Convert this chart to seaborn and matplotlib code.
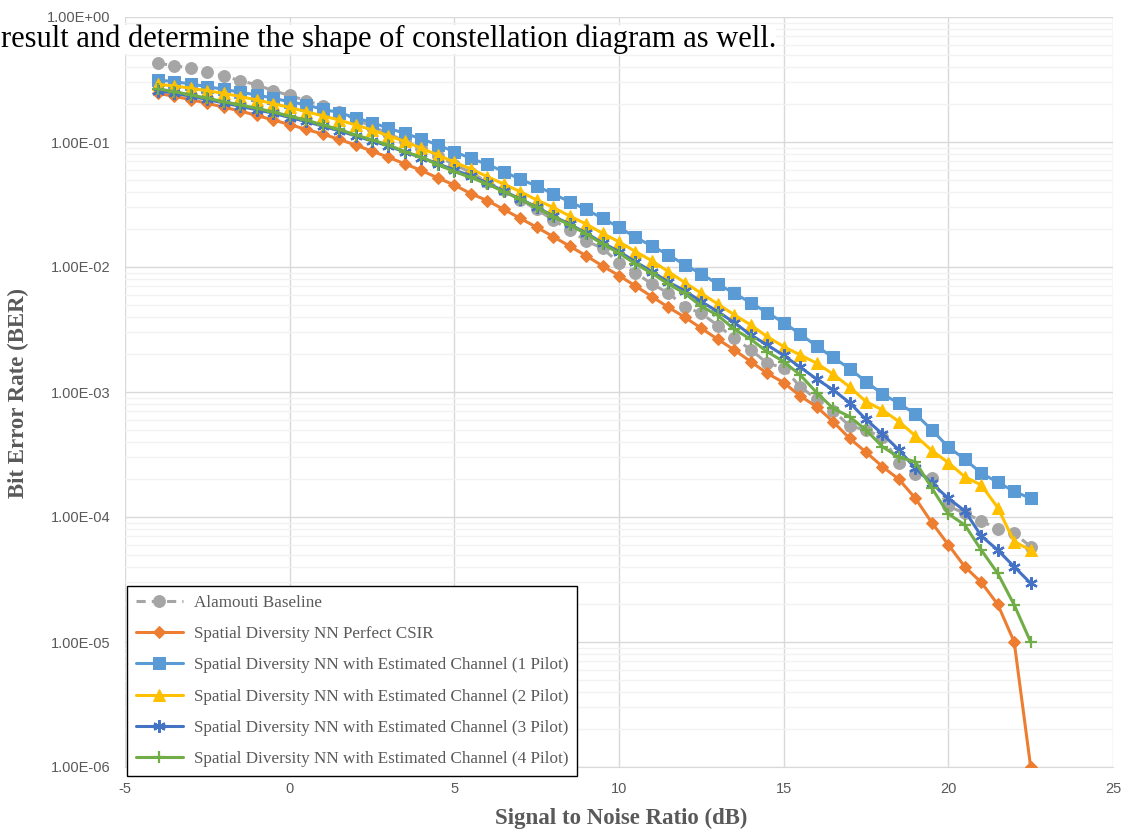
import numpy as np
import pandas as pd
import matplotlib
matplotlib.use("Agg")
import matplotlib.pyplot as plt
from matplotlib.ticker import FixedLocator, NullFormatter
import seaborn as sns

# ---------------- data ----------------
snr_db = [-4, -3.5, -3, -2.5, -2, -1.5, -1, -0.5, 0, 0.5, 1, 1.5, 2, 2.5, 3, 3.5, 4, 4.5,
          5, 5.5, 6, 6.5, 7, 7.5, 8, 8.5, 9, 9.5, 10, 10.5, 11, 11.5, 12, 12.5, 13, 13.5,
          14, 14.5, 15, 15.5, 16, 16.5, 17, 17.5, 18, 18.5, 19, 19.5, 20, 20.5, 21, 21.5,
          22, 22.5]

alamouti = [0.426, 0.408, 0.389, 0.361, 0.337, 0.309, 0.287, 0.257, 0.236, 0.214, 0.195, 0.173,
            0.152, 0.133, 0.117, 0.101, 0.089, 0.077, 0.066, 0.057, 0.048, 0.041, 0.0345, 0.0289,
            0.0238, 0.0198, 0.0162, 0.0141, 0.0108, 0.009, 0.0073, 0.0062, 0.0048, 0.00426,
            0.0034, 0.0027, 0.00218, 0.0017, 0.00156, 0.0011, 0.00088, 0.00071, 0.000535,
            0.000497, 0.000434, 0.000272, 0.000221, 0.000204, 0.000122, 0.000107, 9.34e-5,
            7.96e-5, 7.4e-5, 5.8e-5]

perfect_csir = [0.245, 0.232, 0.218, 0.204, 0.190, 0.177, 0.163, 0.150, 0.138, 0.126, 0.116, 0.105,
                0.0946, 0.0845, 0.0754, 0.0668, 0.0592, 0.0515, 0.0453, 0.0386, 0.034, 0.0289,
                0.0245, 0.0208, 0.0175, 0.0147, 0.0123, 0.0102, 0.00853, 0.00705, 0.00579,
                0.00476, 0.00396, 0.00323, 0.00264, 0.00217, 0.00175, 0.00141, 0.00119,
                0.000929, 0.000763, 0.000579, 0.000426, 0.00033, 0.000253, 0.0002, 0.000141,
                9.0e-5, 6.0e-5, 4.0e-5, 3.0e-5, 2.0e-5, 1.0e-5, 1.0e-6]

pilot1 = [0.313, 0.304, 0.291, 0.277, 0.264, 0.250, 0.238, 0.224, 0.210, 0.198, 0.183, 0.172,
          0.156, 0.143, 0.129, 0.117, 0.106, 0.0946, 0.0837, 0.074, 0.0662, 0.058, 0.0503,
          0.0445, 0.0384, 0.0333, 0.0289, 0.0245, 0.0208, 0.0173, 0.0147, 0.0125, 0.0104,
          0.00879, 0.00731, 0.00616, 0.00518, 0.00431, 0.00359, 0.00291, 0.00233, 0.00189,
          0.00154, 0.00121, 0.000964, 0.000811, 0.000667, 0.000497, 0.000363, 0.00029,
          0.000224, 0.00019, 0.00016, 0.000141]

pilot2 = [0.289, 0.281, 0.269, 0.257, 0.245, 0.231, 0.217, 0.203, 0.189, 0.175, 0.162, 0.150,
          0.137, 0.125, 0.112, 0.101, 0.089, 0.0787, 0.069, 0.061, 0.0528, 0.0461, 0.0401,
          0.0344, 0.030, 0.0256, 0.0221, 0.0186, 0.0159, 0.0133, 0.0112, 0.00918, 0.0075,
          0.00616, 0.00505, 0.00415, 0.00344, 0.00277, 0.00231, 0.00198, 0.0017, 0.00139,
          0.0011, 0.000837, 0.000718, 0.00058, 0.000446, 0.00034, 0.000272, 0.00021,
          0.00018, 0.000119, 6.35e-5, 5.44e-5]

pilot3 = [0.258, 0.246, 0.232, 0.219, 0.205, 0.193, 0.181, 0.170, 0.157, 0.146, 0.134, 0.123,
          0.112, 0.102, 0.093, 0.083, 0.075, 0.067, 0.0596, 0.0535, 0.047, 0.0405, 0.035,
          0.0302, 0.0256, 0.022, 0.0187, 0.0156, 0.0133, 0.011, 0.0092, 0.00757, 0.00645,
          0.00528, 0.0044, 0.00359, 0.00286, 0.00238, 0.00196, 0.00158, 0.00127, 0.00104,
          0.000822, 0.000604, 0.000461, 0.000344, 0.000245, 0.000186, 0.000141, 0.000112,
          7.05e-5, 5.44e-5, 4.0e-5, 2.95e-5]

pilot4 = [0.266, 0.253, 0.238, 0.224, 0.210, 0.198, 0.186, 0.174, 0.161, 0.150, 0.137, 0.126,
          0.114, 0.104, 0.0946, 0.0837, 0.0755, 0.066, 0.058, 0.052, 0.0461, 0.0401, 0.0348,
          0.030, 0.0253, 0.0217, 0.0184, 0.0153, 0.0129, 0.0106, 0.0089, 0.0073, 0.00615,
          0.00485, 0.0041, 0.00318, 0.00264, 0.0021, 0.00175, 0.00137, 0.00099, 0.00074,
          0.000635, 0.000497, 0.000365, 0.0003, 0.000277, 0.00017, 0.000106, 8.63e-5,
          5.44e-5, 3.54e-5, 1.98e-5, 1.0e-5]

series_names = ["Alamouti Baseline",
                "Spatial Diversity NN Perfect CSIR",
                "Spatial Diversity NN with Estimated Channel (1 Pilot)",
                "Spatial Diversity NN with Estimated Channel (2 Pilot)",
                "Spatial Diversity NN with Estimated Channel (3 Pilot)",
                "Spatial Diversity NN with Estimated Channel (4 Pilot)"]
series_values = [alamouti, perfect_csir, pilot1, pilot2, pilot3, pilot4]

x_ticks = [-5, 0, 5, 10, 15, 20, 25]
y_ticks = [1e-6, 1e-5, 1e-4, 1e-3, 1e-2, 1e-1, 1e0]

x_title = "Signal to Noise Ratio (dB)"
y_title = "Bit Error Rate (BER)"
doc_text = "result and determine the shape of constellation diagram as well."

# ---------------- styling ----------------
sns.set_style("white")
plt.rcParams["font.family"] = ["Liberation Sans", "DejaVu Sans"]

W, H = 1121, 832
fig = plt.figure(figsize=(W / 100, H / 100), dpi=100)
ax = fig.add_axes([125 / W, 1 - 767 / H, (1113 - 125) / W, (767 - 17) / H])

styles = [
    dict(color="#A5A5A5", marker="o", markersize=8.5, linestyle=(0, (3, 2)), markeredgecolor="#A5A5A5"),
    dict(color="#ED7D31", marker="D", markersize=6, linestyle="-", markeredgecolor="#ED7D31"),
    dict(color="#5B9BD5", marker="s", markersize=8, linestyle="-", markeredgecolor="#5B9BD5"),
    dict(color="#FFC000", marker="^", markersize=9, linestyle="-", markeredgecolor="#FFC000"),
    dict(color="#4472C4", marker=(6, 2, 0), markersize=9, linestyle="-", markeredgecolor="#4472C4",
         markeredgewidth=1.6),
    dict(color="#70AD47", marker="+", markersize=9, linestyle="-", markeredgecolor="#70AD47",
         markeredgewidth=1.6),
]

handles = []
for i, (name, vals, st) in enumerate(zip(series_names, series_values, styles)):
    df = pd.DataFrame({"snr": snr_db, "ber": vals})
    sns.lineplot(data=df, x="snr", y="ber", ax=ax, linewidth=2.2, zorder=3 + i, **st)
    handles.append(ax.lines[-1])

ax.set_yscale("log")
ax.set_xlim(-5, 25)
ax.set_ylim(1e-6, 1e0)
ax.xaxis.set_major_locator(FixedLocator(x_ticks))
ax.yaxis.set_major_locator(FixedLocator(y_ticks))
minor = [m * 10.0 ** e for e in range(-6, 0) for m in range(2, 10)]
ax.yaxis.set_minor_locator(FixedLocator(minor))
ax.yaxis.set_minor_formatter(NullFormatter())
ax.set_xticklabels([str(t) for t in x_ticks])
ax.set_yticklabels([f"{v:.2E}" for v in y_ticks])

ax.grid(True, which="major", axis="both", color="#D9D9D9", linewidth=1.0, zorder=0)
ax.grid(True, which="minor", axis="y", color="#F2F2F2", linewidth=1.0, zorder=0)
ax.set_axisbelow(True)
for s in ["top", "right", "left"]:
    ax.spines[s].set_visible(False)
ax.spines["bottom"].set_color("#D9D9D9")
ax.tick_params(axis="both", which="both", length=0, colors="#595959", labelsize=10.5)
ax.tick_params(axis="y", pad=10.5)
ax.tick_params(axis="x", pad=11)
ax.set_xlabel("")
ax.set_ylabel("")

serif = ["Liberation Serif", "DejaVu Serif"]
fig.text(18 / W, 1 - 393 / H, y_title, rotation=90, ha="center", va="center",
         fontsize=16.5, fontweight="bold", color="#595959", family=serif)
fig.text(621 / W, 1 - 818 / H, x_title, ha="center", va="center",
         fontsize=16.5, fontweight="bold", color="#595959", family=serif)

leg = fig.legend(handles, series_names, loc="upper left",
                 bbox_to_anchor=(127 / W, 1 - 586 / H), bbox_transform=fig.transFigure,
                 prop={"family": serif, "size": 12.3}, labelcolor="#595959",
                 frameon=True, fancybox=False, framealpha=1, edgecolor="#000000",
                 handlelength=2.8, handletextpad=0.6, labelspacing=0.9,
                 borderpad=0.5, borderaxespad=0)
leg.get_frame().set_linewidth(1.0)
leg.set_zorder(20)

fig.text(1 / W, 1 - 47 / H, doc_text, ha="left", va="baseline", fontsize=22,
         color="#000000", family=serif, zorder=30,
         bbox=dict(facecolor="white", edgecolor="none", pad=0.0))

fig.savefig("out.png", dpi=100)
